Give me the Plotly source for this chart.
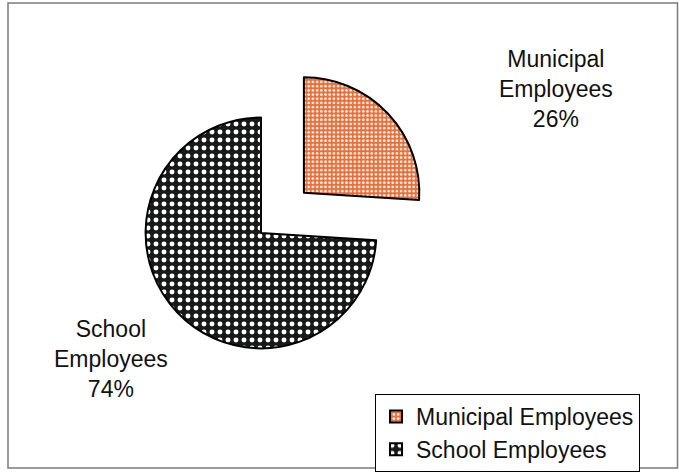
import plotly.graph_objects as go

# Employee split shown in the pie
labels = ["Municipal Employees", "School Employees"]
short_names = ["Municipal<br>Employees", "School<br>Employees"]
shares = [26, 74]
pulls = [0.51, 0.0]

slice_bg = ["#E9703A", "#161A18"]
slice_fg = ["#FFFFFF", "#FFFFFF"]
dot_size = [4.2, 8.0]
dot_solidity = [0.3, 0.3]

FONT = "Liberation Sans, Arial, Helvetica, sans-serif"

fig = go.Figure()
fig.add_trace(go.Pie(
    labels=labels,
    values=shares,
    sort=False,
    direction="clockwise",
    rotation=0,
    pull=pulls,
    textinfo="none",
    hoverinfo="label+percent",
    marker=dict(
        colors=slice_bg,
        line=dict(color="#000000", width=2),
        pattern=dict(
            shape=[".", "."],
            fgcolor=slice_fg,
            bgcolor=slice_bg,
            size=dot_size,
            solidity=dot_solidity,
            fillmode="replace",
        ),
    ),
    domain=dict(x=[0.1267, 0.6421], y=[0.1335, 0.875]),
))

# Category labels with their percentages
label_pos = [(556, 89), (111, 361)]
for name, pct, (px, py) in zip(short_names, shares, label_pos):
    fig.add_annotation(
        x=px / 679, y=1 - py / 472, xref="paper", yref="paper",
        text=f"{name}<br>{pct}%", showarrow=False,
        xanchor="center", yanchor="middle", align="center",
        font=dict(family=FONT, size=23, color="#111111"),
    )

# Outer chart frame
fig.add_shape(
    type="rect", xref="paper", yref="paper",
    x0=8 / 679, x1=677.5 / 679, y0=1 - 470 / 472, y1=1 - 3 / 472,
    line=dict(color="#7A7A7A", width=1.5), fillcolor="rgba(0,0,0,0)",
)

fig.update_layout(
    width=679, height=472,
    margin=dict(l=0, r=0, t=0, b=0),
    paper_bgcolor="#FFFFFF",
    plot_bgcolor="#FFFFFF",
    font=dict(family=FONT, color="#111111"),
    showlegend=True,
    legend=dict(
        x=375 / 679, y=1 - 396 / 472, xanchor="left", yanchor="top",
        bordercolor="#000000", borderwidth=1, bgcolor="#FFFFFF",
        font=dict(family=FONT, size=23, color="#111111"),
        traceorder="normal", itemsizing="constant",
        tracegroupgap=0,
    ),
)

fig.write_html("out.html")
